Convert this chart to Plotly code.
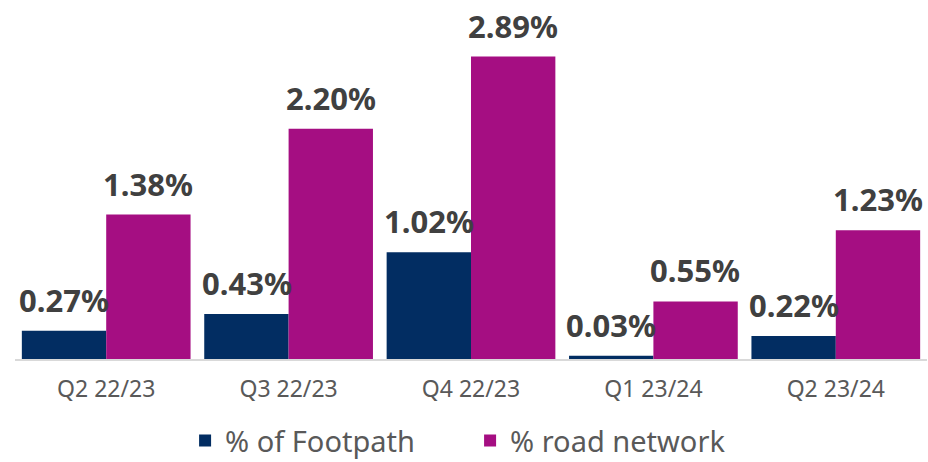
import plotly.graph_objects as go

categories = ["Q2 22/23", "Q3 22/23", "Q4 22/23", "Q1 23/24", "Q2 23/24"]
footpath = [0.27, 0.43, 1.02, 0.03, 0.22]
road = [1.38, 2.20, 2.89, 0.55, 1.23]
series_names = ["% of Footpath", "% road network"]
colors = ["#022D62", "#A50E82"]

fig = go.Figure()
for name, vals, col in zip(series_names, [footpath, road], colors):
    fig.add_trace(go.Bar(x=categories, y=vals, name=name, marker_color=col,
                         marker_line_width=0, hoverinfo="skip"))

annotations = []
for vals, shift in [(footpath, -42), (road, 42)]:
    for c, v in zip(categories, vals):
        annotations.append(dict(
            x=c, y=v, xref="x", yref="y", text=f"{v:.2f}%", showarrow=False,
            yanchor="bottom", xanchor="center", xshift=shift, yshift=8,
            font=dict(family="Noto Sans", size=31, color="#404040", weight="bold")))

fig.update_layout(
    width=928, height=462,
    margin=dict(l=15, r=1, t=45, b=103, autoexpand=False),
    paper_bgcolor="white", plot_bgcolor="white",
    barmode="group", bargap=0.075, bargroupgap=0,
    annotations=annotations,
    showlegend=True,
    legend=dict(orientation="h", x=0.499, xanchor="center", y=-0.26, yanchor="middle",
                font=dict(family="Noto Sans", size=29, color="#595959"),
                entrywidth=240, entrywidthmode="pixels", tracegroupgap=0,
                borderwidth=0),
    xaxis=dict(showline=True, linecolor="#D9D9D9", linewidth=1.5, ticks="",
               tickfont=dict(family="Noto Sans", size=23, color="#595959"),
               ticklabelstandoff=9, showgrid=False),
    yaxis=dict(range=[0, 3.0], visible=False, showgrid=False, zeroline=False),
)

fig.write_html("out.html", config={"displayModeBar": False, "staticPlot": True},
               post_script="document.body.style.margin='0';document.body.style.overflow='hidden';")
